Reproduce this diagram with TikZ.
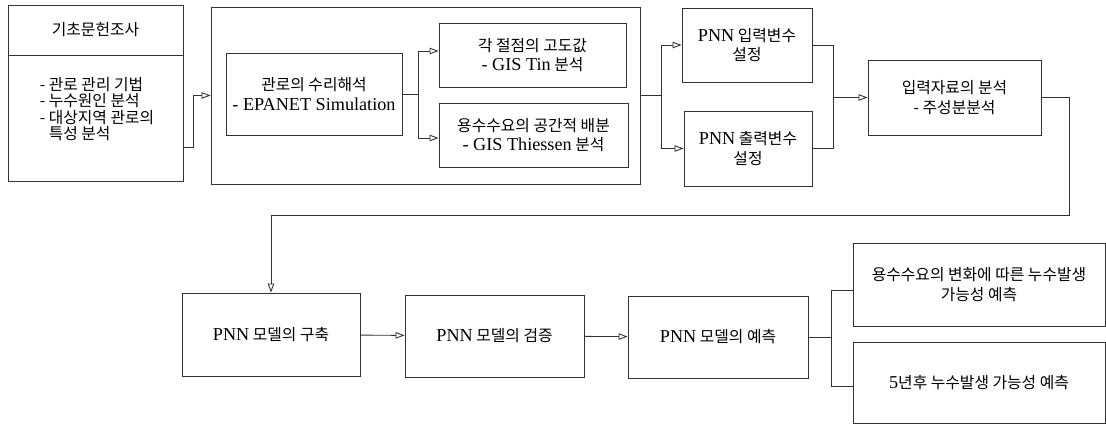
\documentclass[tikz,border=0pt]{standalone}
\usepackage{fontspec}
\setmainfont{Noto Sans CJK KR}
\newfontfamily\latfont{Liberation Serif}[Scale=1.15]
\usetikzlibrary{arrows.meta}
\lineskiplimit=-100pt

\begin{document}
\begin{tikzpicture}[x=0.2mm,y=-0.2mm,font=\fontsize{9}{11}\selectfont,
  box/.style={draw=black!80,line width=0.5pt,inner sep=0,align=center},
  line/.style={draw=black!80,line width=0.5pt},
  arr/.style={line,-{Triangle[open,length=1.8mm,width=1.3mm]}}]
\useasboundingbox (0,0) rectangle (1106,425);

% literature review
\node[box,minimum width=35mm,minimum height=10mm] (LIT) at (95.5,30) {기초문헌조사};
\node[box,minimum width=35mm,minimum height=25.2mm] (REV) at (95.5,118) {};
\node[align=left,inner sep=0] (REVT) at (97,109) {-~관로 관리 기법\\[-1.8pt]-~누수원인 분석\\[-1.8pt]-~대상지역 관로의\\[-1.8pt]\phantom{-~}특성 분석};

% hydraulic analysis
\node[box,minimum width=85.8mm,minimum height=35.4mm] (MAIN) at (425.5,95.5) {};
\node[box,minimum width=35.2mm,minimum height=16.4mm] (HYD) at (314,94) {관로의 수리해석\\{\latfont - EPANET Simulation}};
\node[box,minimum width=37.4mm,minimum height=12.8mm] (ELEV) at (532.5,55) {각 절점의 고도값\\{\latfont - GIS Tin} 분석};
\node[box,minimum width=37.8mm,minimum height=12.8mm] (DEM) at (533.5,135) {용수수요의 공간적 배분\\{\latfont - GIS Thiessen} 분석};

% PNN variables
\node[box,minimum width=26mm,minimum height=14.8mm] (PIN) at (747,45) {{\latfont PNN} 입력변수\\설정};
\node[box,minimum width=25.6mm,minimum height=15mm] (POUT) at (748,148.5) {{\latfont PNN} 출력변수\\설정};
\node[box,minimum width=34.6mm,minimum height=15mm] (PCA) at (954.5,97.5) {입력자료의 분석\\- 주성분분석};

% PNN model
\node[box,minimum width=35.6mm,minimum height=16.6mm] (BUILD) at (271,334.5) {{\latfont PNN} 모델의 구축};
\node[box,minimum width=35.8mm,minimum height=16.4mm] (VERIF) at (494.5,336) {{\latfont PNN} 모델의 검증};
\node[box,minimum width=36mm,minimum height=16.4mm] (PRED) at (718,337) {{\latfont PNN} 모델의 예측};
\node[box,minimum width=50.4mm,minimum height=16.6mm] (FUT1) at (979,284.5) {용수수요의 변화에 따른 누수발생\\가능성 예측};
\node[box,minimum width=50.4mm,minimum height=16.2mm] (FUT2) at (979,382.5) {{\latfont 5}년후 누수발생 가능성 예측};

% junctions
\coordinate (A1) at (193,147);
\coordinate (B1) at (418,94);
\coordinate (B2) at (418,51);
\coordinate (B3) at (418,138);
\coordinate (C1) at (661,95.5);
\coordinate (D1) at (833,97.5);
\coordinate (E1) at (1069,215);
\coordinate (F1) at (831,337);
\coordinate (F2) at (831,290);
\coordinate (F3) at (831,386);

\draw[arr] (REV.east |- A1) -- (A1) |- (MAIN.west);
\draw[line] (HYD.east) -- (B1);
\draw[arr] (B1) |- (B2 -| ELEV.west);
\draw[arr] (B1) |- (B3 -| DEM.west);
\draw[line] (MAIN.east) -- (C1);
\draw[arr] (C1) |- (PIN.west);
\draw[arr] (C1) |- (POUT.west);
\draw[line] (PIN.east) -| (D1);
\draw[line] (POUT.east) -| (D1);
\draw[arr] (D1) -- (PCA.west);
\draw[arr] (PCA.east) -| (E1) -| (BUILD.north);
\draw[arr] (BUILD) -- (VERIF);
\draw[arr] (VERIF) -- (PRED);
\draw[line] (PRED.east) -- (F1);
\draw[line] (F2) -- (F3);
\draw[line] (F2) -- (F2 -| FUT1.west);
\draw[line] (F3) -- (F3 -| FUT2.west);
\end{tikzpicture}
\end{document}
